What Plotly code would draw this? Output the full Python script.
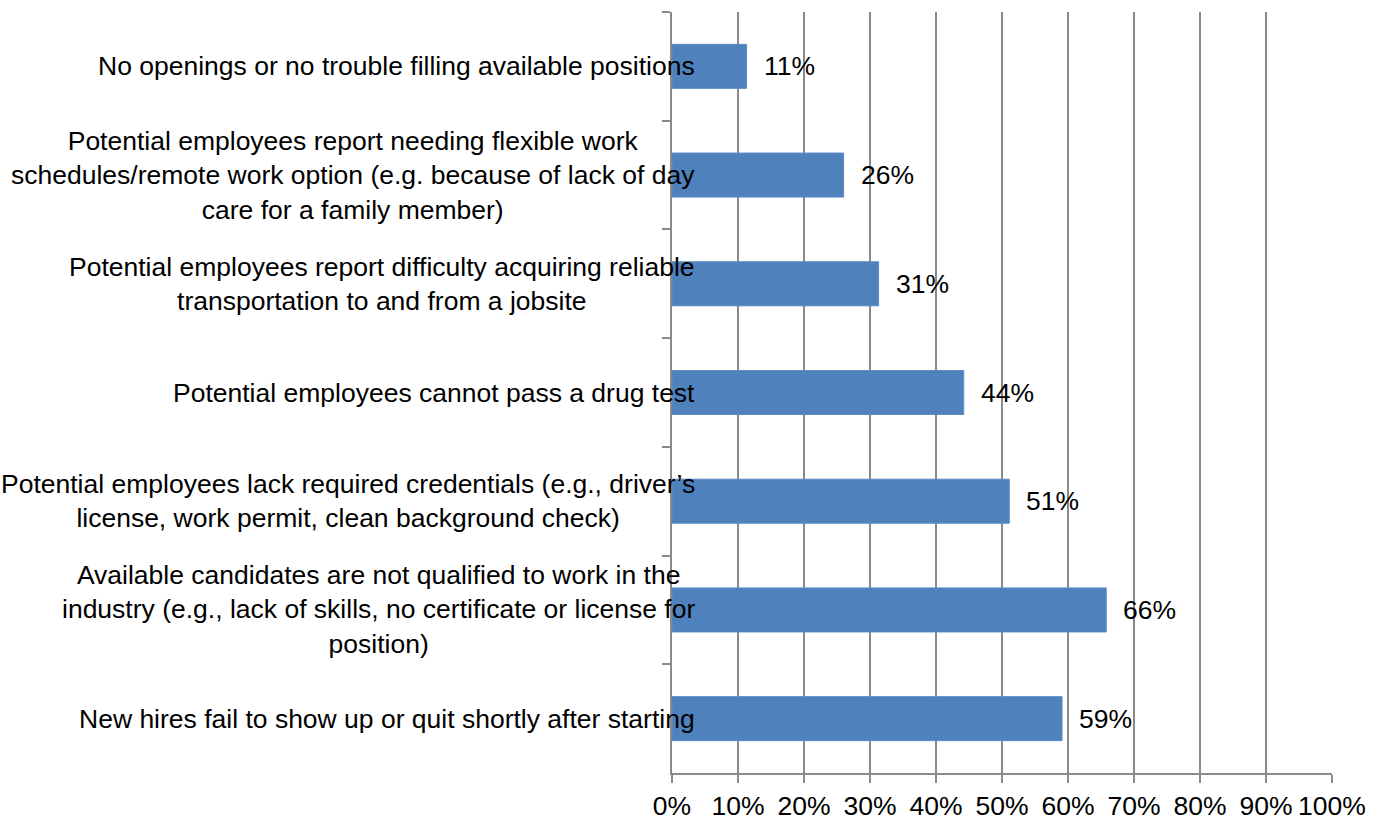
import plotly.graph_objects as go

categories = [
    "No openings or no trouble filling available positions",
    "Potential employees report needing flexible work<br>schedules/remote work option (e.g. because of lack of day<br>care for a family member)",
    "Potential employees report difficulty acquiring reliable<br>transportation to and from a jobsite",
    "Potential employees cannot pass a drug test",
    "Potential employees lack required credentials (e.g., driver’s<br>license, work permit, clean background check)",
    "Available candidates are not qualified to work in the<br>industry (e.g., lack of skills, no certificate or license for<br>position)",
    "New hires fail to show up or quit shortly after starting",
]
values = [11.3, 26, 31.3, 44.2, 51.1, 65.8, 59.1]
value_labels = ["11%", "26%", "31%", "44%", "51%", "66%", "59%"]
tick_vals = [0, 10, 20, 30, 40, 50, 60, 70, 80, 90, 100]
tick_text = ["0%", "10%", "20%", "30%", "40%", "50%", "60%", "70%", "80%", "90%", "100%"]

FONT = "Liberation Sans, Arial, sans-serif"
GRID = "#8a8a8a"
FS = 26.5

fig = go.Figure()
fig.add_trace(go.Bar(
    x=values, y=categories, orientation="h",
    marker=dict(color="#4F81BD", line=dict(color="#5b8cc6", width=1)),
    hoverinfo="skip",
))

annotations = []
for c in categories:
    annotations.append(dict(
        x=0, xref="paper", y=c, yref="y", text=c, showarrow=False,
        xanchor="right", yanchor="middle", align="center", xshift=25,
        font=dict(family=FONT, size=FS, color="#000000"),
    ))
for v, t, c in zip(values, value_labels, categories):
    annotations.append(dict(
        x=v, xref="x", y=c, yref="y", text=t, showarrow=False,
        xanchor="left", yanchor="middle", xshift=15,
        font=dict(family=FONT, size=FS, color="#000000"),
    ))

fig.update_layout(
    width=1386, height=823,
    margin=dict(l=672, r=54, t=12, b=50, autoexpand=False),
    paper_bgcolor="white", plot_bgcolor="white",
    bargap=0.595,
    showlegend=False,
    annotations=annotations,
    font=dict(family=FONT, size=FS, color="#000000"),
    xaxis=dict(
        range=[0, 100], tickvals=tick_vals, ticktext=tick_text,
        showgrid=True, gridcolor=GRID, gridwidth=1.5,
        showline=True, linecolor=GRID, linewidth=1.5,
        ticks="outside", ticklen=8, tickcolor=GRID, tickwidth=1.5,
        zeroline=False, fixedrange=True, automargin=False,
        tickfont=dict(family=FONT, size=FS, color="#000000"),
    ),
    yaxis=dict(
        autorange="reversed", showticklabels=False,
        showline=True, linecolor=GRID, linewidth=1.5,
        ticks="outside", ticklen=8, tickcolor=GRID, tickwidth=1.5,
        tickson="boundaries", showgrid=False, zeroline=False, automargin=False,
        fixedrange=True,
    ),
)

fig.write_html(
    "out.html",
    config={"displayModeBar": False},
    post_script="document.body.style.margin='0';document.body.style.overflow='hidden';",
)
